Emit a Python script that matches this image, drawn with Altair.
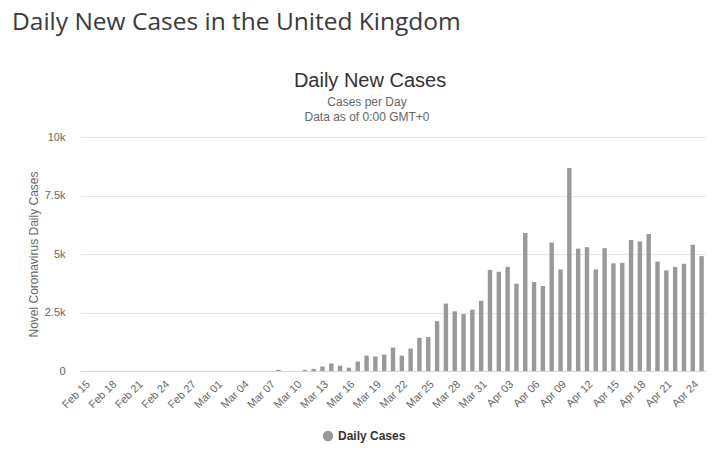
import altair as alt
import pandas as pd

heading = "Daily New Cases in the United Kingdom"
chart_title = "Daily New Cases"
subtitles = ["Cases per Day", "Data as of 0:00 GMT+0"]
y_title = "Novel Coronavirus Daily Cases"
series_name = "Daily Cases"

days = [d.strftime("%b %d") for d in pd.date_range("2020-02-15", "2020-04-25", freq="D")]

feb_cases = [0] * 15  # Feb 15 - Feb 29
mar_cases = [0, 0, 0, 0, 0, 0, 0, 50, 0, 0, 50, 90, 190, 320, 230, 140, 400, 660,
             620, 700, 1000, 660, 960, 1420, 1450, 2130, 2880, 2550, 2430, 2620, 3000]
apr_cases = [4320, 4240, 4450, 3730, 5900, 3800, 3630, 5490, 4340, 8680, 5230, 5290,
             4340, 5250, 4600, 4620, 5600, 5530, 5850, 4680, 4300, 4450, 4580, 5390, 4910]
cases = feb_cases + mar_cases + apr_cases

tick_labels = days[::3]
y_ticks = [0, 2500, 5000, 7500, 10000]

df = pd.DataFrame({"day": days, "cases": cases, "series": series_name})

bars = alt.Chart(df).mark_bar(color="#999999").encode(
    x=alt.X("day:O", sort=None,
            scale=alt.Scale(paddingInner=0.5, paddingOuter=0.25),
            axis=alt.Axis(values=tick_labels, labelAngle=-45, labelFontSize=11,
                          labelColor="#666666", labelFont="Liberation Sans",
                          domainColor="#ccd6eb", ticks=False, tickSize=0,
                          labelPadding=7, title=None, grid=False)),
    y=alt.Y("cases:Q",
            scale=alt.Scale(domain=[0, 10000], nice=False),
            axis=alt.Axis(values=y_ticks,
                          labelExpr="datum.value == 0 ? '0' : (datum.value / 1000) + 'k'",
                          labelFontSize=11, labelColor="#666666", labelFont="Liberation Sans",
                          domain=False, ticks=False, tickSize=0, labelPadding=15,
                          gridColor="#e6e6e6", title=y_title, titleFontSize=12,
                          titleFontWeight="normal", titleColor="#666666",
                          titleFont="Liberation Sans", titleX=-47, titleY=117,
                          titleAngle=270, titleAlign="center", titleBaseline="middle")),
    color=alt.Color("series:N", scale=alt.Scale(range=["#999999"]),
                    legend=alt.Legend(title=None, orient="none", legendX=242, legendY=293,
                                      symbolType="circle", symbolSize=110,
                                      symbolStrokeWidth=0, labelFontSize=12,
                                      labelFontWeight="bold", labelColor="#333333",
                                      labelFont="Liberation Sans", padding=0)),
)

head = alt.Chart(pd.DataFrame({"t": [heading]})).mark_text(
    align="left", baseline="alphabetic", fontSize=24.5, font="Open Sans", color="#3a3a3a"
).encode(x=alt.value(-68), y=alt.value(-107), text="t:N")

title_mark = alt.Chart(pd.DataFrame({"t": [chart_title]})).mark_text(
    align="center", baseline="alphabetic", fontSize=20, font="Liberation Sans", color="#333333"
).encode(x=alt.value(290), y=alt.value(-50), text="t:N")

sub1 = alt.Chart(pd.DataFrame({"t": [subtitles[0]]})).mark_text(
    align="center", baseline="alphabetic", fontSize=12, font="Liberation Sans", color="#666666"
).encode(x=alt.value(287), y=alt.value(-31), text="t:N")

sub2 = alt.Chart(pd.DataFrame({"t": [subtitles[1]]})).mark_text(
    align="center", baseline="alphabetic", fontSize=12, font="Liberation Sans", color="#666666"
).encode(x=alt.value(287), y=alt.value(-16), text="t:N")

chart = alt.layer(bars, head, title_mark, sub1, sub2).properties(
    width=626, height=234,
    autosize=alt.AutoSizeParams(type="none"),
    padding={"left": 72, "top": 129, "right": 12, "bottom": 78},
).configure_view(stroke=None)

chart.save("out.html", embed_options={"renderer": "svg", "actions": False})
